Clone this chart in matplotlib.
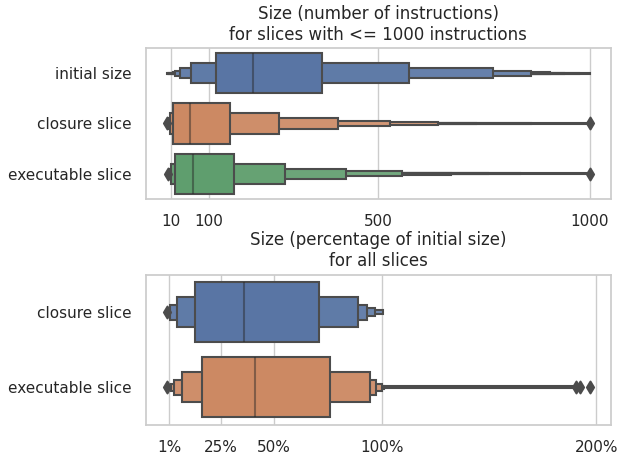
import colorsys
import numpy as np
import matplotlib
matplotlib.use("Agg")
import matplotlib.pyplot as plt
from matplotlib.colors import to_rgb

# letter-value boxes per slice kind, innermost box first: (low, high)
size_labels = ["initial size", "closure slice", "executable slice"]
size_boxes = [
    [(115.5, 366.8), (56.4, 573.0), (30.4, 771.7), (19.3, 860.5),
     (13.8, 905.8), (6.0, 939.6), (3.0, 975.0), (0.5, 1000.0)],
    [(13.8, 148.6), (7.4, 264.4), (3.5, 403.9), (2.0, 528.0),
     (1.5, 641.7), (1.2, 730.0), (1.0, 860.0), (1.0, 992.0)],
    [(18.5, 159.6), (10.6, 280.0), (4.0, 423.5), (3.0, 556.6),
     (1.8, 671.8), (1.4, 760.0), (1.2, 835.0), (1.0, 994.0)],
]
size_medians = [204.4, 54.7, 62.6]
size_outliers = [[], [1.0, 1000.0], [2.5, 1000.0]]
size_ticks = [10, 100, 500, 1000]

pct_labels = ["closure slice", "executable slice"]
pct_boxes = [
    [(13.0, 70.8), (4.9, 89.0), (1.5, 93.2), (1.0, 97.1), (0.7, 100.7)],
    [(16.4, 76.1), (6.9, 94.6), (3.4, 97.6), (1.8, 100.2), (1.2, 101.0),
     (1.0, 189.0)],
]
pct_medians = [36.1, 41.1]
pct_outliers = [[0.0], [0.0, 190.5, 192.5, 197.0]]
pct_ticks = [1, 25, 50, 100, 200]

deep = ["#4C72B0", "#DD8452", "#55A868"]

plt.rcParams.update({
    "font.family": "DejaVu Sans",
    "text.color": "0.15",
    "axes.edgecolor": "0.8",
    "axes.linewidth": 1.25,
    "grid.color": "0.8",
    "grid.linewidth": 1.0,
    "xtick.color": "0.15",
    "ytick.color": "0.15",
})


def desaturate(c, prop=0.75):
    h, l, s = colorsys.rgb_to_hls(*to_rgb(c))
    return colorsys.hls_to_rgb(h, l, s * prop)


colors = [desaturate(c) for c in deep]
lum = min(colorsys.rgb_to_hls(*c)[1] for c in colors) * 0.6
gray = (lum, lum, lum)


def boxen(ax, boxes, medians, outliers, labels, title, ticks, ticklabels, xlim):
    for y, levels in enumerate(boxes):
        base = np.array(colors[y])
        n = len(levels)
        # outer boxes first so the inner ones sit on top
        for i in range(n - 1, -1, -1):
            lo, hi = levels[i]
            fc = base + min(0.04 * i, 0.85) * (1 - base)
            h = max(0.8 * 0.5 ** i, 0.017)
            ax.barh(y, hi - lo, left=lo, height=h,
                    color=fc, edgecolor=gray, linewidth=1.5, zorder=2)
        ax.plot([medians[y], medians[y]], [y - 0.4, y + 0.4], color="0.15",
                alpha=0.45, linewidth=1.5, solid_capstyle="butt", zorder=3)
        if outliers[y]:
            ax.scatter(outliers[y], [y] * len(outliers[y]), marker="d", s=36,
                       color=gray, linewidth=1.5, zorder=4)
    ax.set_ylim(len(boxes) - 0.5, -0.5)
    ax.set_yticks(range(len(labels)))
    ax.set_yticklabels(labels, fontsize=11)
    ax.set_xlim(*xlim)
    ax.set_xticks(ticks)
    ax.set_xticklabels(ticklabels, fontsize=11)
    ax.tick_params(length=0, pad=10.5)
    ax.xaxis.grid(True, zorder=0)
    ax.set_axisbelow(True)
    ax.set_title(title, fontsize=12)


fig = plt.figure(figsize=(6.18, 4.57), dpi=100)
ax1 = fig.add_axes([0.2358, 0.5646, 0.7529, 0.3304])
ax2 = fig.add_axes([0.2358, 0.0700, 0.7529, 0.3293])

boxen(ax1, size_boxes, size_medians, size_outliers, size_labels,
      "Size (number of instructions)\nfor slices with <= 1000 instructions",
      size_ticks, [str(t) for t in size_ticks], (-50, 1050))
boxen(ax2, pct_boxes, pct_medians, pct_outliers, pct_labels,
      "Size (percentage of initial size)\nfor all slices",
      pct_ticks, [f"{t}%" for t in pct_ticks], (-9.85, 206.85))

fig.savefig("out.png", dpi=100)
